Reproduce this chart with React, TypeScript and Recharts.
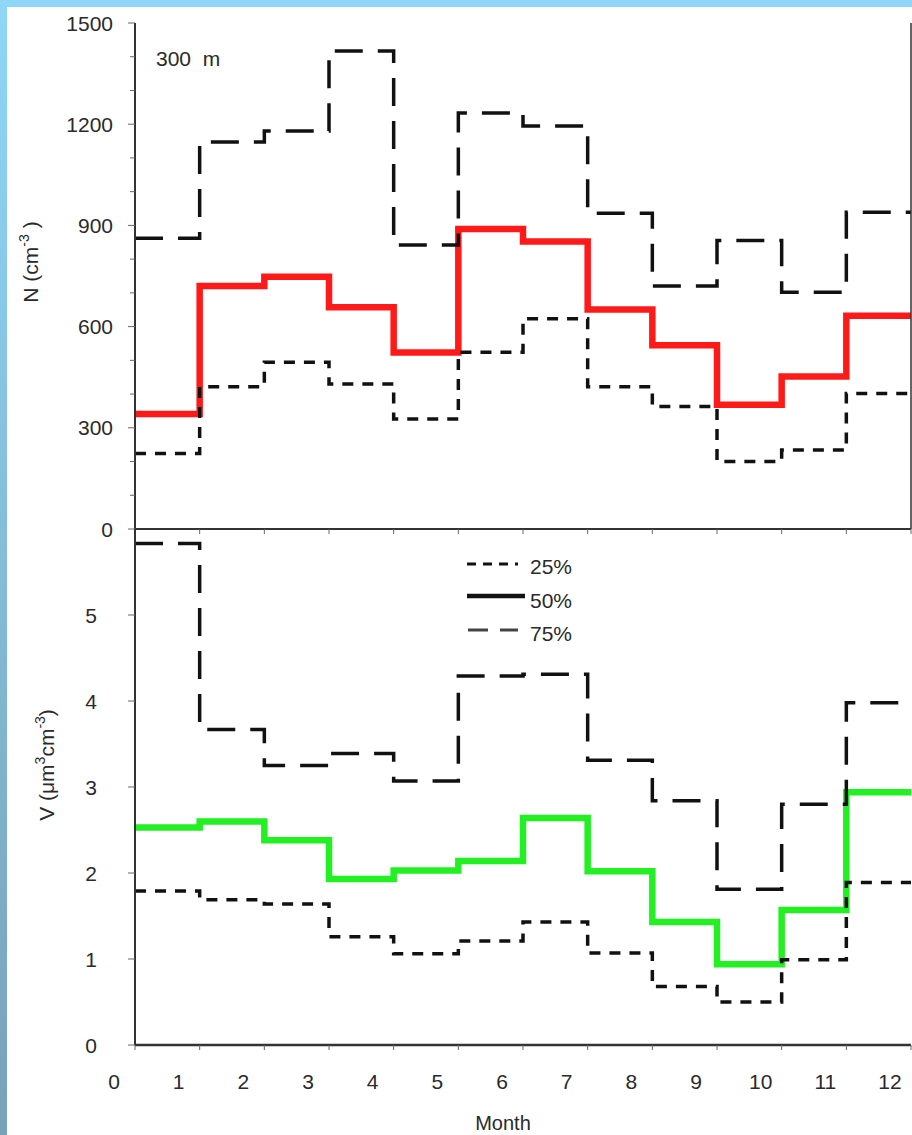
import React from "react";
import { LineChart, Line, XAxis, YAxis } from "recharts";

const months = [0, 1, 2, 3, 4, 5, 6, 7, 8, 9, 10, 11, 12];
const monthTicks = [0, 1, 2, 3, 4, 5, 6, 7, 8, 9, 10, 11, 12];
const nTicks = [0, 100, 200, 300, 400, 500, 600, 700, 800, 900, 1000, 1100, 1200, 1300, 1400, 1500];
const vTicks = [0, 1, 2, 3, 4, 5];

// Concentration N (cm^-3), per month
const N25 = [224, 422, 494, 430, 326, 524, 623, 422, 363, 200, 234, 402];
const N50 = [341, 720, 748, 657, 523, 889, 852, 651, 545, 368, 452, 632];
const N75 = [862, 1147, 1180, 1417, 842, 1233, 1195, 936, 720, 855, 702, 939];

// Volume V (um^3 cm^-3), per month
const V25 = [1.79, 1.69, 1.64, 1.26, 1.06, 1.21, 1.43, 1.07, 0.68, 0.5, 0.99, 1.89];
const V50 = [2.53, 2.6, 2.38, 1.93, 2.03, 2.14, 2.64, 2.02, 1.43, 0.94, 1.57, 2.94];
const V75 = [5.83, 3.67, 3.25, 3.39, 3.07, 4.29, 4.31, 3.31, 2.84, 1.81, 2.8, 3.98];

const build = (a: number[], b: number[], c: number[]) =>
  months.map((m, i) => {
    const k = Math.min(i, a.length - 1);
    return { m, p25: a[k], p50: b[k], p75: c[k] };
  });

const topData = build(N25, N50, N75);
const botData = build(V25, V50, V75);

const FONT = "'Liberation Sans', Arial, sans-serif";
const TXT = "#2a2a2a";
const FS = 21;

const NTick = (props: any) => {
  const { x, y, payload } = props;
  const major = payload.value % 300 === 0;
  return (
    <g>
      <line x1={x - (major ? 7 : 5)} x2={x} y1={y} y2={y} stroke="#666" strokeWidth={1} />
      {major && (
        <text x={x - 22} y={y} dy="0.36em" textAnchor="end" fontFamily={FONT} fontSize={FS} fill={TXT}>
          {payload.value}
        </text>
      )}
    </g>
  );
};

const VTick = (props: any) => {
  const { x, y, payload } = props;
  return (
    <g>
      <line x1={x - 7} x2={x} y1={y} y2={y} stroke="#666" strokeWidth={1} />
      <text x={x - 38} y={y} dy="0.36em" textAnchor="end" fontFamily={FONT} fontSize={FS} fill={TXT}>
        {payload.value}
      </text>
    </g>
  );
};

const XTickTop = (props: any) => {
  const { x, y } = props;
  return <line x1={x} x2={x} y1={y} y2={y + 5} stroke="#666" strokeWidth={1} />;
};

const XTickBottom = (props: any) => {
  const { x, y, payload } = props;
  return (
    <g>
      <line x1={x} x2={x} y1={y} y2={y + 5} stroke="#666" strokeWidth={1} />
      <text x={x - 21} y={y + 36} dy="0.36em" textAnchor="middle" fontFamily={FONT} fontSize={FS} fill={TXT}>
        {payload.value}
      </text>
    </g>
  );
};

const RED = "#ff1a1a";
const GREEN = "#22f022";
const BLK = "#111";

export default function App() {
  return (
    <div
      style={{
        position: "absolute",
        left: 0,
        top: 0,
        width: 912,
        height: 1135,
        overflow: "hidden",
        background: "linear-gradient(to bottom, #8fd6f8, #79a1b8)",
      }}
    >
      <div style={{ position: "absolute", left: 7, top: 7, width: 905, height: 1128, background: "#fff" }} />

      {/* Top panel: N */}
      <div style={{ position: "absolute", left: 0, top: 0 }}>
        <LineChart width={912} height={540} data={topData} margin={{ top: 23, right: 0, bottom: 0, left: 0 }}>
          <XAxis
            dataKey="m"
            type="number"
            domain={[0, 12]}
            ticks={monthTicks}
            height={11}
            tickSize={0}
            tickMargin={0}
            tickLine={false}
            tick={<XTickTop />}
            axisLine={{ stroke: "#333", strokeWidth: 2 }}
            interval={0}
          />
          <XAxis
            xAxisId="t"
            orientation="top"
            dataKey="m"
            type="number"
            domain={[0, 12]}
            height={0}
            tick={false}
            tickLine={false}
            axisLine={{ stroke: "#555", strokeWidth: 1.5 }}
          />
          <YAxis
            type="number"
            domain={[0, 1500]}
            ticks={nTicks}
            width={135}
            tickSize={0}
            tickMargin={0}
            tickLine={false}
            tick={<NTick />}
            axisLine={{ stroke: "#333", strokeWidth: 2 }}
            interval={0}
          />
          <YAxis
            yAxisId="r"
            orientation="right"
            type="number"
            domain={[0, 1500]}
            width={1}
            tick={false}
            tickLine={false}
            axisLine={{ stroke: "#333", strokeWidth: 1.5 }}
          />
          <Line type="stepAfter" dataKey="p50" stroke={RED} strokeWidth={6.5} dot={false} isAnimationActive={false} />
          <Line type="stepAfter" dataKey="p25" stroke={BLK} strokeWidth={3.5} strokeDasharray="11 9" dot={false} isAnimationActive={false} />
          <Line type="stepAfter" dataKey="p75" stroke={BLK} strokeWidth={3.5} strokeDasharray="28 15" dot={false} isAnimationActive={false} />
        </LineChart>
      </div>

      {/* Bottom panel: V */}
      <div style={{ position: "absolute", left: 0, top: 529 }}>
        <LineChart width={912} height={606} data={botData} margin={{ top: 0, right: 1, bottom: 0, left: 0 }}>
          <XAxis
            dataKey="m"
            type="number"
            domain={[0, 12]}
            ticks={monthTicks}
            height={90}
            tickSize={0}
            tickMargin={0}
            tickLine={false}
            tick={<XTickBottom />}
            axisLine={{ stroke: "#333", strokeWidth: 2.5 }}
            interval={0}
          />
          <YAxis
            type="number"
            domain={[0, 6]}
            ticks={vTicks}
            width={135}
            tickSize={0}
            tickMargin={0}
            tickLine={false}
            tick={<VTick />}
            axisLine={{ stroke: "#333", strokeWidth: 2 }}
            interval={0}
          />
          <Line type="stepAfter" dataKey="p50" stroke={GREEN} strokeWidth={6.5} dot={false} isAnimationActive={false} />
          <Line type="stepAfter" dataKey="p25" stroke={BLK} strokeWidth={3.5} strokeDasharray="11 9" dot={false} isAnimationActive={false} />
          <Line type="stepAfter" dataKey="p75" stroke={BLK} strokeWidth={3.5} strokeDasharray="28 15" dot={false} isAnimationActive={false} />
        </LineChart>
      </div>

      {/* Overlay texts & legend */}
      <svg
        width={912}
        height={1135}
        style={{ position: "absolute", left: 0, top: 0, pointerEvents: "none" }}
        fontFamily={FONT}
        fill={TXT}
      >
        <text x={156} y={66} fontSize={FS} style={{ whiteSpace: "pre" }}>
          {"300  m"}
        </text>

        <text transform="translate(38,262) rotate(-90)" textAnchor="middle" fontSize={FS}>
          N (cm
          <tspan dy={-9} fontSize={14}>-3</tspan>
          <tspan dy={9}> )</tspan>
        </text>

        <text transform="translate(54,765) rotate(-90)" textAnchor="middle" fontSize={FS}>
          V (μm
          <tspan dy={-9} fontSize={14}>3</tspan>
          <tspan dy={9}>cm</tspan>
          <tspan dy={-9} fontSize={14}>-3</tspan>
          <tspan dy={9}>)</tspan>
        </text>

        <text x={503} y={1123} dy="0.36em" textAnchor="middle" fontSize={20}>
          Month
        </text>

        {/* legend */}
        <line x1={467} x2={518} y1={564} y2={564} stroke={BLK} strokeWidth={3} strokeDasharray="9 7" />
        <line x1={467} x2={525} y1={596} y2={596} stroke={BLK} strokeWidth={4.5} />
        <line x1={468} x2={518} y1={630} y2={630} stroke="#444" strokeWidth={3} strokeDasharray="20 12" />
        <text x={530} y={566} dy="0.36em" fontSize={FS}>25%</text>
        <text x={530} y={600} dy="0.36em" fontSize={FS}>50%</text>
        <text x={530} y={633} dy="0.36em" fontSize={FS}>75%</text>
      </svg>
    </div>
  );
}
